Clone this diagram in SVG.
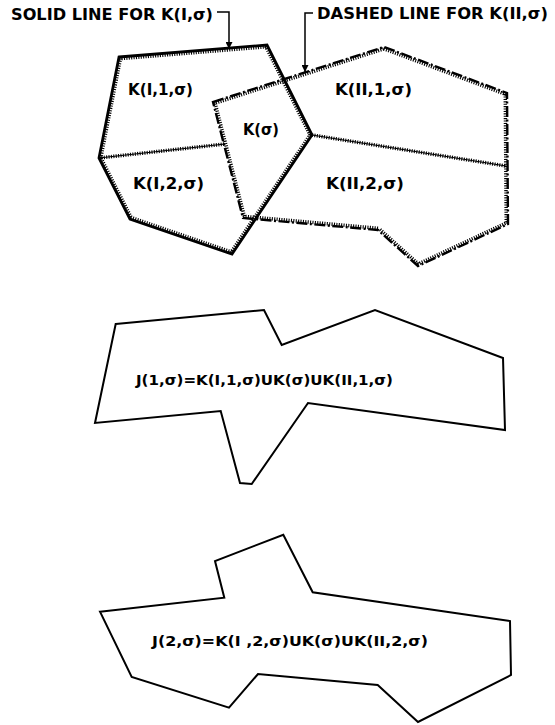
<svg xmlns="http://www.w3.org/2000/svg" width="555" height="725" viewBox="0 0 555 725">
<defs>
  <marker id="arr" viewBox="0 0 10 10" refX="10" refY="5" markerWidth="11" markerHeight="7" markerUnits="userSpaceOnUse" orient="auto">
    <path d="M0,0 L10,5 L0,10 Z" fill="#000"/>
  </marker>
  <clipPath id="clipKI"><polygon points="119,57 267,45 312,135 232,254 130,219 99,158"/></clipPath>
  <clipPath id="clipKII"><polygon points="213,102 384,47 507,93 508,224 418,266 378,230 243,218"/></clipPath>
</defs>
<style>
  text { font-family: "DejaVu Sans", "Liberation Sans", sans-serif; font-weight: bold; fill: #000; }
  .title { font-size: 16px; }
  .lab { font-size: 15.5px; }
  .eq { font-size: 14.5px; }
  .solid { fill: none; stroke: #000; stroke-width: 2.8; stroke-linejoin: miter; }
  .dashed { fill: none; stroke: #000; stroke-width: 2.4; stroke-dasharray: 11 2.5 2 2.5; }
  .hatch { fill: none; stroke: #000; stroke-width: 7; stroke-dasharray: 1.1 1.3; }
  .divline { fill: none; stroke: #000; stroke-width: 1; }
  .divhatch { fill: none; stroke: #000; stroke-width: 3.6; stroke-dasharray: 1.1 1.3; }
  .outline { fill: none; stroke: #000; stroke-width: 2; stroke-linejoin: miter; }
  .leader { fill: none; stroke: #000; stroke-width: 1.5; }
</style>
<rect width="555" height="725" fill="#fff"/>

<g id="K_I_sigma">
  <polygon class="hatch" clip-path="url(#clipKI)" points="119,57 267,45 312,135 232,254 130,219 99,158"/>
  <polygon class="solid" points="119,57 267,45 312,135 232,254 130,219 99,158"/>
</g>
<g id="K_II_sigma">
  <polygon class="hatch" clip-path="url(#clipKII)" points="213,102 384,47 507,93 508,224 418,266 378,230 243,218"/>
  <polygon class="dashed" points="213,102 384,47 507,93 508,224 418,266 378,230 243,218"/>
</g>
<g id="divider_I">
  <line class="divhatch" x1="99" y1="158" x2="225" y2="144"/>
  <line class="divline" x1="99" y1="158" x2="225" y2="144"/>
</g>
<g id="divider_II">
  <line class="divhatch" x1="312" y1="135" x2="506" y2="166"/>
  <line class="divline" x1="312" y1="135" x2="506" y2="166"/>
</g>

<g id="label_KI1"><text class="lab" x="128" y="95" textLength="65" lengthAdjust="spacingAndGlyphs">K(I,1,σ)</text></g>
<g id="label_Ksigma"><text class="lab" x="243" y="135" textLength="36" lengthAdjust="spacingAndGlyphs">K(σ)</text></g>
<g id="label_KI2"><text class="lab" x="133" y="189" textLength="71" lengthAdjust="spacingAndGlyphs">K(I,2,σ)</text></g>
<g id="label_KII1"><text class="lab" x="335" y="95" textLength="77" lengthAdjust="spacingAndGlyphs">K(II,1,σ)</text></g>
<g id="label_KII2"><text class="lab" x="326" y="189" textLength="78" lengthAdjust="spacingAndGlyphs">K(II,2,σ)</text></g>

<g id="legend_solid"><text class="title" x="11" y="20" textLength="202" lengthAdjust="spacingAndGlyphs">SOLID LINE FOR K(I,σ)</text></g>
<g id="legend_dashed"><text class="title" x="317" y="19" textLength="231" lengthAdjust="spacingAndGlyphs">DASHED LINE FOR K(II,σ)</text></g>

<g id="connectors">
  <path class="leader" d="M217,12 H229 V49" marker-end="url(#arr)"/>
  <path class="leader" d="M313,13 H305 V72" marker-end="url(#arr)"/>
</g>

<g id="J1">
  <polygon class="outline" points="115.7,324 264,310 281.7,345 375,310 503,358 505,430 308,403 251.7,484 240,483 220.7,411 95,423"/>
  <text class="eq" x="136" y="385" textLength="257" lengthAdjust="spacingAndGlyphs">J(1,σ)=K(I,1,σ)UK(σ)UK(II,1,σ)</text>
</g>
<g id="J2">
  <polygon class="outline" points="100,611.7 224.3,597.7 215,561 283.3,534.7 312.7,592.3 510,621 511,675 418,722 377.7,685 258,674 229,707.7 131.7,677"/>
  <text class="eq" x="152" y="646" textLength="276" lengthAdjust="spacingAndGlyphs">J(2,σ)=K(I ,2,σ)UK(σ)UK(II,2,σ)</text>
</g>
</svg>
